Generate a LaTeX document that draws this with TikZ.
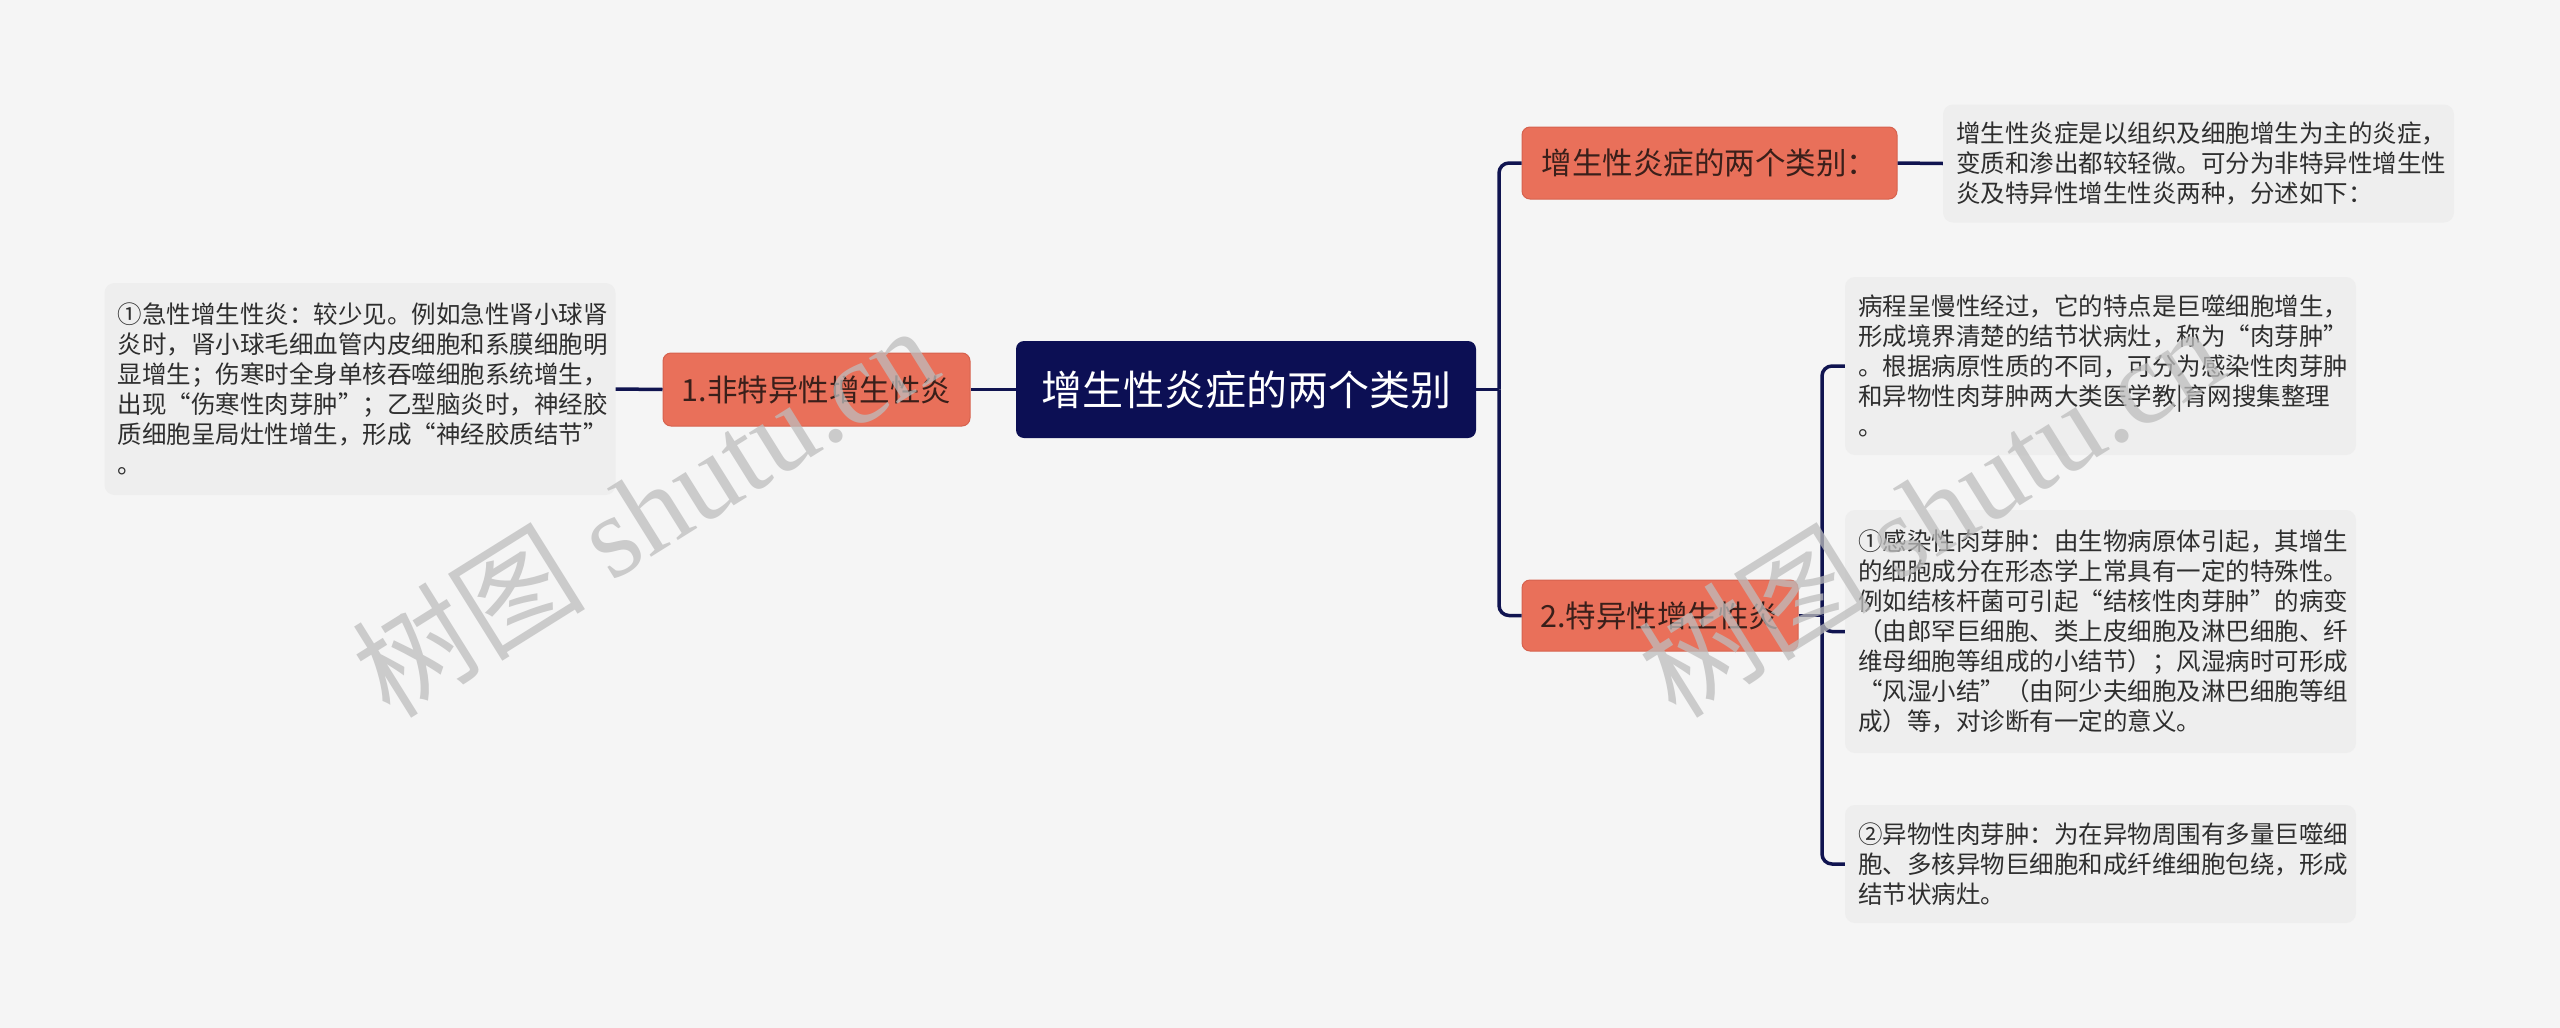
\documentclass[tikz,border=0pt]{standalone}
\usepackage{fontspec}
\newfontfamily\cjk{Noto Sans CJK SC}
\newfontfamily\wmserif{Liberation Serif}
\definecolor{bgcol}{HTML}{F5F5F5}
\definecolor{rootcol}{RGB}{12,15,84}
\definecolor{catcol}{RGB}{233,112,90}
\definecolor{catborder}{RGB}{214,98,78}
\definecolor{cattext}{RGB}{58,31,26}
\definecolor{leafcol}{HTML}{EEEEEE}
\definecolor{leaftext}{HTML}{2E2E2E}
\definecolor{linecol}{RGB}{16,20,80}
\definecolor{wmcol}{HTML}{BDBDBD}
\tikzset{
  conn/.style={draw=linecol, line width=3.5pt, rounded corners=10pt},
  rootbox/.style={fill=rootcol, rounded corners=8pt, text=white,
    font=\cjk\fontsize{41}{49}\selectfont, inner sep=0pt},
  catbox/.style={fill=catcol, draw=catborder, line width=1pt, rounded corners=8pt,
    text=cattext, font=\cjk\fontsize{30.5}{36}\selectfont, inner sep=0pt},
  leafbox/.style={fill=leafcol, rounded corners=10pt, text=leaftext,
    font=\cjk\fontsize{24.5}{30}\selectfont, align=left, text width=485pt,
    inner xsep=13pt, inner ysep=0pt},
  wm/.style={text=wmcol, opacity=0.75, inner sep=0pt,
    font=\cjk\fontsize{117}{122}\selectfont}
}
\begin{document}
\begin{tikzpicture}[x=1pt,y=-1pt]
\useasboundingbox (0,0) rectangle (2560,1028);
\fill[bgcol] (0,0) rectangle (2560,1028);

% main nodes
\node[rootbox, minimum width=460pt, minimum height=97pt] (root) at (1246,389.5) {增生性炎症的两个类别};
\node[catbox, minimum width=307pt, minimum height=73pt] (c1) at (816.5,389.5) {1.非特异性增生性炎};
\node[catbox, minimum width=375pt, minimum height=72pt] (cat1) at (1709.5,163) {增生性炎症的两个类别：};
\node[catbox, minimum width=276pt, minimum height=71pt] (cat2) at (1660,615.5) {2.特异性增生性炎};

% leaves
\node[leafbox, minimum height=212pt] (ll) at (360,389) {①急性增生性炎：较少见。例如急性肾小球肾\\炎时，肾小球毛细血管内皮细胞和系膜细胞明\\显增生；伤寒时全身单核吞噬细胞系统增生，\\出现“伤寒性肉芽肿”；乙型脑炎时，神经胶\\质细胞呈局灶性增生，形成“神经胶质结节”\\。};
\node[leafbox, minimum height=118pt] (tr) at (2198.5,163.5) {增生性炎症是以组织及细胞增生为主的炎症，\\变质和渗出都较轻微。可分为非特异性增生性\\炎及特异性增生性炎两种，分述如下：};
\node[leafbox, minimum height=178pt] (l1) at (2100.5,366) {病程呈慢性经过，它的特点是巨噬细胞增生，\\形成境界清楚的结节状病灶，称为“肉芽肿”\\。根据病原性质的不同，可分为感染性肉芽肿\\和异物性肉芽肿两大类医学教|育网搜集整理\\。};
\node[leafbox, minimum height=243pt] (l2) at (2100.5,631.5) {①感染性肉芽肿：由生物病原体引起，其增生\\的细胞成分在形态学上常具有一定的特殊性。\\例如结核杆菌可引起“结核性肉芽肿”的病变\\（由郎罕巨细胞、类上皮细胞及淋巴细胞、纤\\维母细胞等组成的小结节）；风湿病时可形成\\“风湿小结”（由阿少夫细胞及淋巴细胞等组\\成）等，对诊断有一定的意义。};
\node[leafbox, minimum height=118pt] (l3) at (2100.5,864) {②异物性肉芽肿：为在异物周围有多量巨噬细\\胞、多核异物巨细胞和成纤维细胞包绕，形成\\结节状病灶。};

% junctions
\coordinate (jr) at (1499,389.5);
\coordinate (jr2) at (1822,615.5);

% connectors
\draw[conn] (root.west) -- (c1.east);
\draw[conn] (c1.west) -- (ll.east);
\draw[conn] (root.east) -- (jr);
\draw[conn] (cat1.west) -| (jr);
\draw[conn] (cat2.west) -| (jr);
\draw[conn] (cat1.east) -- (tr.west);
\draw[conn] (cat2.east) -- (jr2);
\draw[conn] (l1.west) -| (jr2);
\draw[conn] (l2.west) -| (jr2);
\draw[conn] (l3.west) -| (jr2);

% watermarks
\node[wm, rotate=32] (wm1) at (644,510) {树图 {\wmserif shutu.cn}};
\node[wm, rotate=32] (wm2) at (1930,510) {树图 {\wmserif shutu.cn}};
\end{tikzpicture}
\end{document}
